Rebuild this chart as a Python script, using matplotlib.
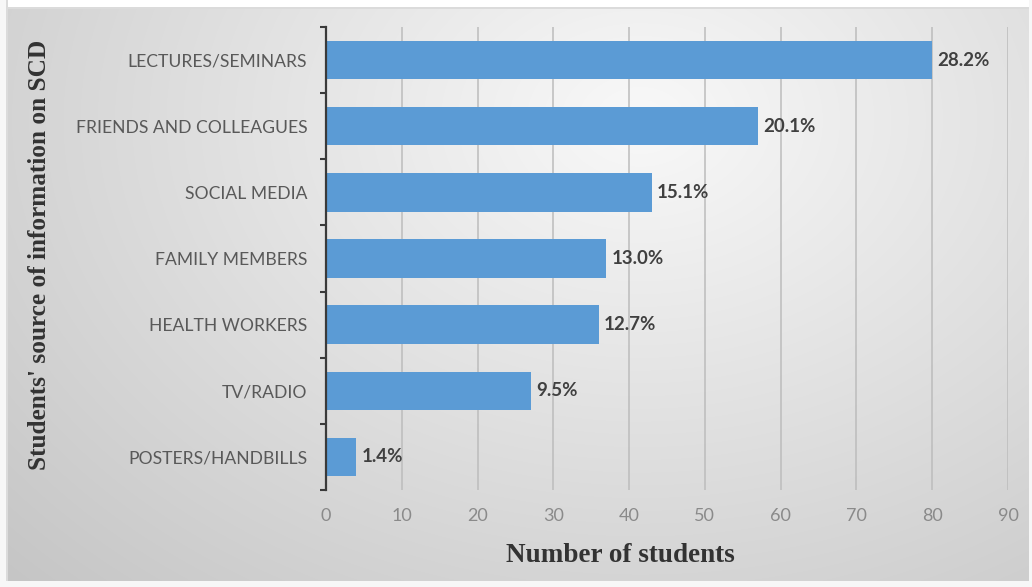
import numpy as np
import matplotlib
matplotlib.use("Agg")
import matplotlib.pyplot as plt

categories = ["LECTURES/SEMINARS", "FRIENDS AND COLLEAGUES", "SOCIAL MEDIA",
              "FAMILY MEMBERS", "HEALTH WORKERS", "TV/RADIO", "POSTERS/HANDBILLS"]
counts = [80, 57, 43, 37, 36, 27, 4]
pct_labels = ["28.2%", "20.1%", "15.1%", "13.0%", "12.7%", "9.5%", "1.4%"]
x_ticks = [0, 10, 20, 30, 40, 50, 60, 70, 80, 90]

W, H = 1032, 587
fig = plt.figure(figsize=(W / 100, H / 100), dpi=100)

# background gradient
bg = fig.add_axes([0, 0, 1, 1], zorder=-10)
yy, xx = np.mgrid[0:H, 0:W]
d = np.sqrt(((xx - 640) / 700.0) ** 2 + ((yy - 120) / 520.0) ** 2)
v = 0.975 - 0.16 * np.clip(d, 0, 1.3)
img = np.dstack([v, v, v])
img[0:7, :, :] = 1.0
img[7:9, :, :] = 0.86
img[:, 0:6, :] = 0.97
img[:, 6:8, :] = 0.86
img[H - 6:H, :, :] = 0.97
img[:, W - 3:W, :] = 0.97
bg.imshow(img, aspect="auto", extent=[0, 1, 0, 1])
bg.set_axis_off()

ax = fig.add_axes([326 / W, 1 - 490 / H, (1008 - 326) / W, (490 - 27) / H])
ax.set_facecolor("none")
ypos = np.arange(len(categories))
bars = ax.barh(ypos, counts, height=0.58, color="#5b9bd5", zorder=3)
ax.set_ylim(len(categories) - 0.5, -0.5)
ax.set_xlim(0, 90)
ax.set_xticks(x_ticks)
ax.set_yticks(ypos)
ax.set_yticklabels(categories)
ax.set_yticks(np.arange(-0.5, len(categories), 1.0), minor=True)

for sp in ["top", "right", "bottom"]:
    ax.spines[sp].set_visible(False)
ax.spines["left"].set_color("#3a3a3a")
ax.spines["left"].set_linewidth(1.6)
ax.spines["left"].set_zorder(5)

ax.tick_params(axis="y", which="major", length=0, pad=13.5, labelsize=12.6,
               labelcolor="#595959")
ax.tick_params(axis="y", which="minor", length=4, width=1.5, color="#3a3a3a")
ax.tick_params(axis="x", length=0, pad=13, labelsize=13, labelcolor="#8a8a8a")
for lab in ax.get_yticklabels() + ax.get_xticklabels():
    lab.set_fontfamily("Lato")

ax.grid(axis="x", color="#bcbcbc", linewidth=1.1, zorder=1)
ax.set_axisbelow(True)

for b, t in zip(bars, pct_labels):
    ax.text(b.get_width() + 0.7, b.get_y() + b.get_height() / 2, t,
            va="center", ha="left", fontsize=13.5, color="#404040",
            fontfamily="Lato", fontweight="bold", zorder=4)

fig.text(40 / W, 1 - 255 / H, "Students' source of information on SCD",
         rotation=90, ha="center", va="center", fontsize=18.2,
         fontweight="bold", fontfamily="Liberation Serif", color="#333333")
fig.text(620 / W, 1 - 555 / H, "Number of students", ha="center", va="center",
         fontsize=19.5, fontweight="bold", fontfamily="Liberation Serif",
         color="#333333")

fig.savefig("out.png", dpi=100)
